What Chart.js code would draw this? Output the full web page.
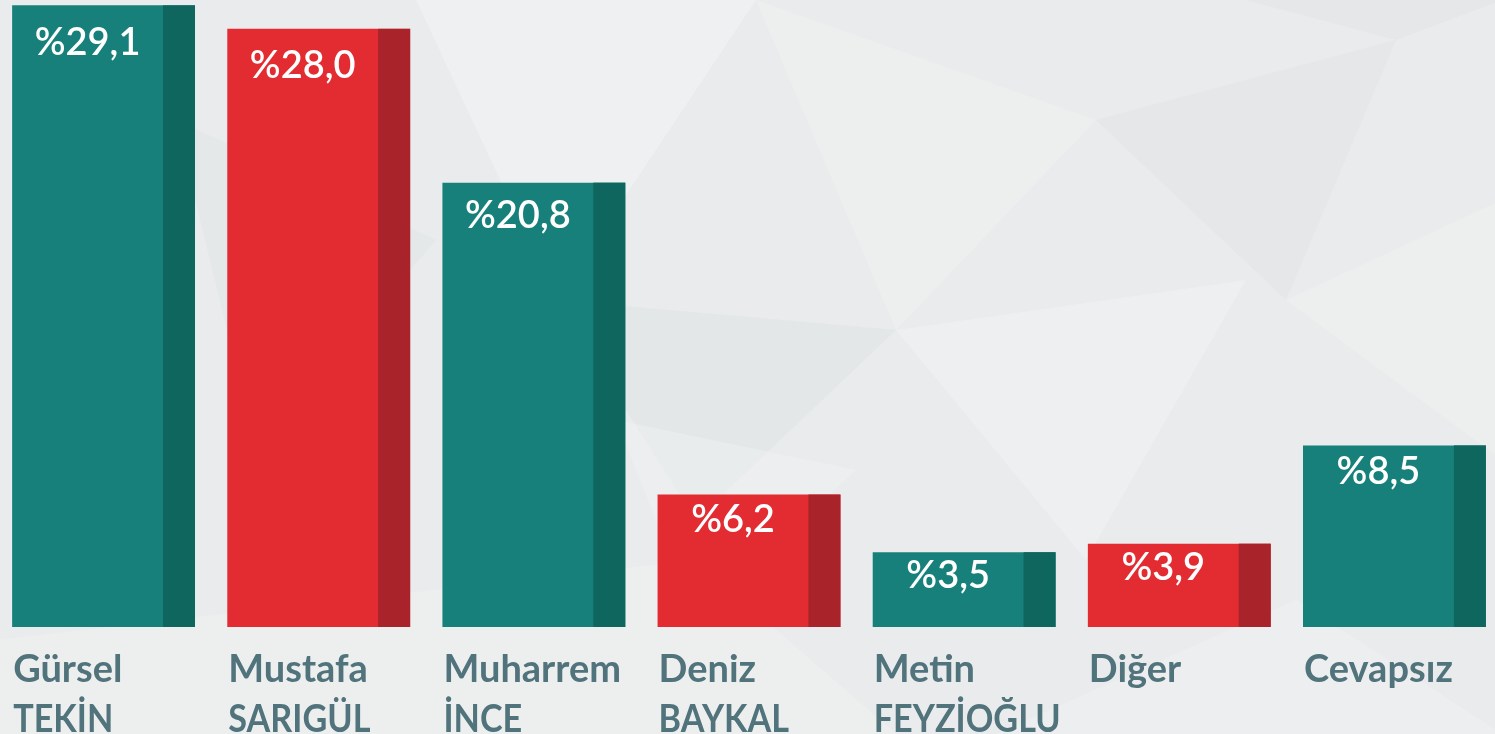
<!DOCTYPE html>
<html lang="tr">
<head>
<meta charset="utf-8">
<script src="https://cdn.jsdelivr.net/npm/chart.js@4.4.0/dist/chart.umd.min.js"></script>
<style>
  html, body { margin: 0; padding: 0; overflow: hidden; }
  body { width: 1495px; height: 734px; background: #e9ebec; position: relative; }
  #wrap { position: absolute; left: -4px; top: 0; width: 1506px; height: 734px; }
</style>
</head>
<body>
<div id="wrap"><canvas id="barChart" width="1506" height="734"></canvas></div>
<script>
// survey results, %
const candidates = [
  ["Gürsel", "TEKİN"],
  ["Mustafa", "SARIGÜL"],
  ["Muharrem", "İNCE"],
  ["Deniz", "BAYKAL"],
  ["Metin", "FEYZİOĞLU"],
  ["Diğer"],
  ["Cevapsız"],
];
const shares = [29.1, 28.0, 20.8, 6.2, 3.5, 3.9, 8.5];
const barGroup = ["teal", "red", "teal", "red", "teal", "red", "teal"];

const faceColor = { teal: "#17807a", red: "#e22c31" };
const sideColor = { teal: "#0f665f", red: "#a9232a" };
const labelColor = "#51737b";
const sideRatio = 0.175;

function formatShare(v) {
  return "%" + v.toFixed(1).replace(".", ",");
}

// faint polygon background
const backdrop = {
  id: "backdrop",
  beforeDraw(chart) {
    const ctx = chart.ctx;
    const shapes = [
      ["rgba(255,255,255,0.25)", [[420, 0], [760, 0], [560, 300]]],
      ["rgba(255,255,255,0.2)", [[760, 0], [1100, 120], [900, 330]]],
      ["rgba(200,210,214,0.14)", [[560, 300], [900, 330], [700, 520]]],
      ["rgba(255,255,255,0.22)", [[900, 330], [1250, 280], [1090, 560]]],
      ["rgba(210,216,220,0.18)", [[1100, 120], [1400, 40], [1290, 300]]],
      ["rgba(255,255,255,0.2)", [[1290, 300], [1506, 200], [1506, 460]]],
      ["rgba(205,212,215,0.14)", [[1250, 0], [1506, 0], [1400, 40]]],
      ["rgba(255,255,255,0.18)", [[620, 420], [860, 470], [700, 620]]],
      ["rgba(210,215,218,0.16)", [[180, 120], [440, 240], [260, 450]]],
      ["rgba(255,255,255,0.2)", [[0, 640], [700, 560], [900, 734], [0, 734]]],
      ["rgba(255,255,255,0.18)", [[1000, 734], [1300, 600], [1506, 734]]],
    ];
    ctx.save();
    shapes.forEach(([fill, pts]) => {
      ctx.beginPath();
      ctx.moveTo(pts[0][0], pts[0][1]);
      for (let i = 1; i < pts.length; i++) ctx.lineTo(pts[i][0], pts[i][1]);
      ctx.closePath();
      ctx.fillStyle = fill;
      ctx.fill();
    });
    ctx.restore();
  },
};

// darker right side on each bar, value labels, two-line names
const barDecor = {
  id: "barDecor",
  afterDatasetsDraw(chart) {
    const ctx = chart.ctx;
    const meta = chart.getDatasetMeta(0);
    ctx.save();
    meta.data.forEach((bar, i) => {
      const { x, y, base, width } = bar.getProps(["x", "y", "base", "width"], true);
      const side = width * sideRatio;
      ctx.fillStyle = sideColor[barGroup[i]];
      ctx.fillRect(x + width / 2 - side, y, side, base - y);

      const h = base - y;
      ctx.fillStyle = "#ffffff";
      ctx.font = "600 38px Lato";
      ctx.textAlign = "center";
      ctx.textBaseline = "middle";
      ctx.fillText(formatShare(shares[i]), x - side / 2, y + 22 + h * 0.025);

      ctx.fillStyle = labelColor;
      ctx.font = "bold 38px Lato";
      ctx.textAlign = "left";
      ctx.textBaseline = "alphabetic";
      candidates[i].forEach((line, j) => {
        const left = x - width / 2 + 1;
        const ly = base + 55 + j * 50;
        if (line === line.toLocaleUpperCase("tr")) {
          // caps in the original are narrower
          ctx.save();
          ctx.translate(left, ly);
          ctx.scale(0.9, 1);
          ctx.fillText(line, 0, 0);
          ctx.restore();
        } else {
          ctx.fillText(line, left, ly);
        }
      });
    });
    ctx.restore();
  },
};

new Chart(document.getElementById("barChart"), {
  type: "bar",
  data: {
    labels: candidates,
    datasets: [
      {
        data: shares,
        backgroundColor: barGroup.map((g) => faceColor[g]),
        borderWidth: 0,
        barPercentage: 0.85,
        categoryPercentage: 1.0,
      },
    ],
  },
  options: {
    responsive: false,
    animation: false,
    devicePixelRatio: 1,
    layout: { padding: { left: 0, right: 0, top: 0, bottom: 107 } },
    plugins: {
      legend: { display: false },
      tooltip: { enabled: false },
    },
    scales: {
      x: { display: false },
      y: { display: false, min: 0, max: 29.35 },
    },
  },
  plugins: [backdrop, barDecor],
});
</script>
</body>
</html>
